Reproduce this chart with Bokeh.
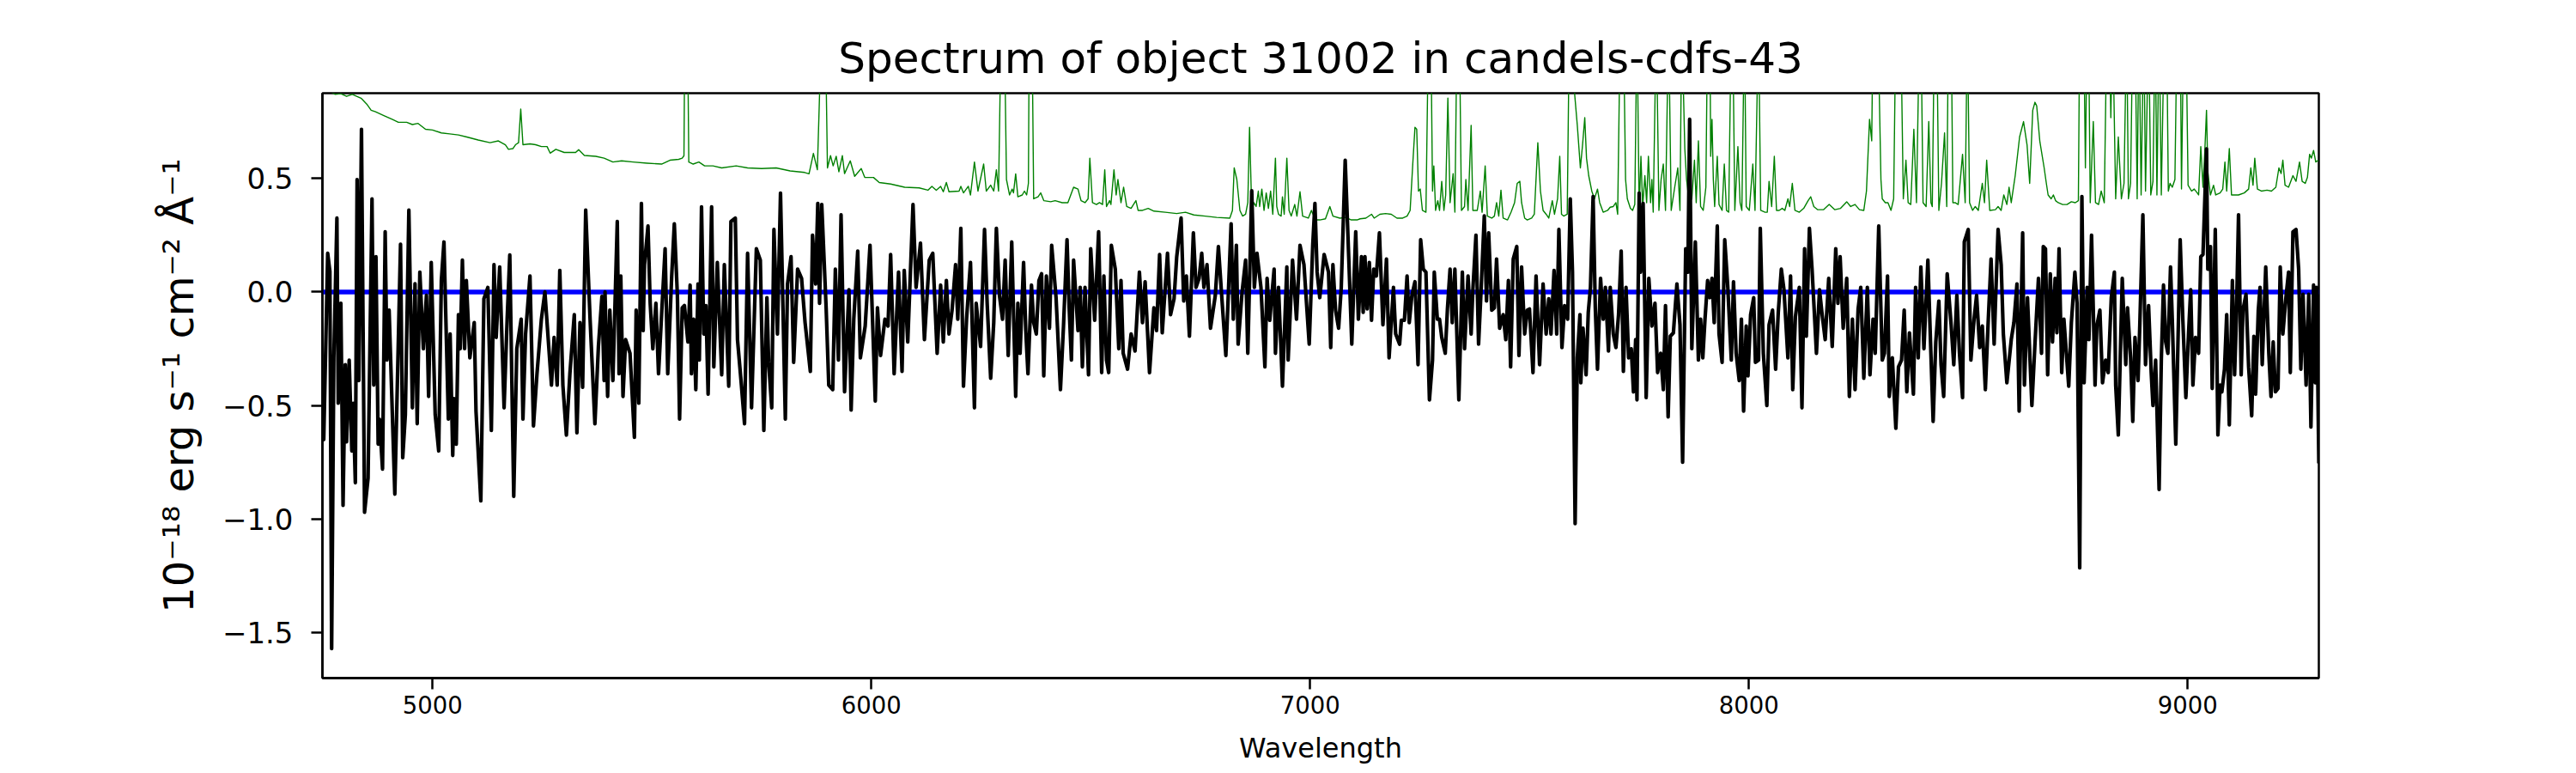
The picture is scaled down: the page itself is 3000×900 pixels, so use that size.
from bokeh.plotting import figure
from bokeh.models import Range1d, FixedTicker, CustomJSTickFormatter
from bokeh.embed import file_html
from bokeh.resources import INLINE

title_text = "Spectrum of object 31002 in candels-cdfs-43"
x_label = "Wavelength"
y_label = "10\u207b\u00b9\u2078 erg s\u207b\u00b9 cm\u207b\u00b2 \u00c5\u207b\u00b9"
x_ticks = [5000, 6000, 7000, 8000, 9000]
y_ticks = [-1.5, -1.0, -0.5, 0.0, 0.5]
x_limits = [4749, 9299]
y_limits = [-1.70, 0.875]

# observed flux (black), (wavelength, flux)
flux_points = [
(4750,-0.60),(4752,-0.65),(4761,0.17),(4766,0.09),(4770,-1.57),(4775,-0.29),(4782,0.325),(4785,-0.49),
(4791,-0.05),(4796,-0.94),(4801,-0.32),(4804,-0.66),(4810,-0.30),(4816,-0.70),(4819,-0.49),(4824,-0.84),
(4828,0.495),(4832,-0.39),(4838,0.716),(4845,-0.97),(4853,-0.82),(4862,0.41),(4866,-0.41),(4871,0.155),
(4876,-0.67),(4879,-0.56),(4886,-0.78),(4892,0.265),(4896,-0.30),(4901,-0.08),(4914,-0.89),(4927,0.21),
(4932,-0.73),(4938,-0.54),(4946,0.36),(4954,-0.51),(4960,0.036),(4965,-0.58),(4971,0.087),(4979,-0.25),
(4986,-0.015),(4991,-0.46),(4997,0.13),(5006,-0.54),(5014,-0.70),(5020,0.05),(5026,0.22),(5036,-0.56),
(5040,-0.185),(5046,-0.72),(5049,-0.47),(5054,-0.67),(5059,-0.10),(5063,-0.25),(5068,0.14),(5073,-0.25),
(5077,0.05),(5085,-0.29),(5095,-0.135),(5099,-0.525),(5110,-0.92),(5117,-0.03),(5126,0.02),(5134,-0.61),
(5140,0.12),(5145,-0.20),(5153,0.11),(5163,-0.51),(5170,-0.12),(5176,0.163),(5185,-0.90),(5192,-0.25),
(5202,-0.12),(5206,-0.56),(5212,-0.185),(5222,0.07),(5230,-0.59),(5238,-0.36),(5248,-0.12),(5256,0.0),
(5271,-0.41),(5277,-0.20),(5284,-0.41),(5290,0.095),(5297,-0.41),(5305,-0.63),(5313,-0.36),(5323,-0.10),
(5329,-0.62),(5336,-0.135),(5342,-0.42),(5349,0.36),(5359,-0.12),(5370,-0.58),(5378,-0.24),(5386,-0.02),
(5391,-0.39),(5393,0.0),(5399,-0.46),(5404,-0.08),(5411,-0.39),(5421,0.31),(5425,-0.36),(5429,0.07),
(5434,-0.46),(5440,-0.21),(5450,-0.27),(5460,-0.64),(5464,-0.08),(5470,-0.49),(5476,0.39),(5480,-0.17),
(5483,0.12),(5491,0.29),(5496,-0.05),(5502,-0.25),(5509,-0.05),(5515,-0.36),(5522,-0.10),(5530,0.19),
(5536,-0.36),(5545,0.07),(5551,0.30),(5558,-0.015),(5563,-0.56),(5569,-0.07),(5574,-0.06),(5582,-0.22),
(5587,0.03),(5590,-0.36),(5595,-0.12),(5600,-0.43),(5605,0.035),(5608,-0.30),(5613,0.375),(5618,-0.185),
(5623,-0.06),(5628,-0.45),(5636,0.375),(5641,-0.33),(5649,0.13),(5659,-0.365),(5665,0.12),(5675,-0.415),
(5680,0.31),(5690,0.325),(5695,-0.21),(5703,-0.39),(5711,-0.58),(5718,0.17),(5727,-0.51),(5738,0.19),
(5747,0.14),(5755,-0.61),(5762,-0.025),(5766,-0.31),(5773,-0.51),(5778,0.275),(5786,-0.185),(5793,0.435),
(5804,-0.56),(5809,0.035),(5817,0.155),(5823,-0.31),(5832,0.10),(5841,0.06),(5849,-0.135),(5861,-0.35),
(5866,0.25),(5873,0.035),(5878,0.39),(5882,-0.05),(5887,0.385),(5897,-0.07),(5903,-0.41),(5912,-0.43),
(5918,0.10),(5925,-0.30),(5931,0.34),(5939,-0.44),(5949,0.01),(5954,-0.52),(5960,-0.12),(5969,0.18),
(5975,-0.29),(5986,-0.15),(5997,0.205),(6009,-0.48),(6014,-0.07),(6021,-0.28),(6031,-0.12),(6038,-0.15),
(6044,0.165),(6052,-0.36),(6062,0.087),(6070,-0.35),(6075,0.095),(6083,-0.22),(6095,0.385),(6102,0.02),
(6112,0.215),(6121,-0.21),(6132,0.14),(6140,0.17),(6150,-0.27),(6158,0.03),(6164,-0.22),(6171,0.05),
(6177,-0.185),(6184,-0.08),(6192,0.12),(6197,-0.12),(6204,0.28),(6210,-0.415),(6217,-0.12),(6226,0.13),
(6235,-0.51),(6239,-0.05),(6249,-0.24),(6258,0.275),(6264,-0.05),(6272,-0.38),(6279,-0.135),(6285,0.28),
(6292,-0.015),(6299,-0.12),(6305,0.14),(6312,-0.28),(6320,0.22),(6329,-0.46),(6334,-0.05),(6339,-0.27),
(6347,0.13),(6352,-0.17),(6357,-0.36),(6365,0.03),(6370,-0.135),(6376,-0.185),(6382,0.05),(6388,0.08),
(6393,-0.37),(6399,0.07),(6406,-0.16),(6411,0.205),(6421,-0.025),(6431,-0.43),(6438,-0.15),(6446,0.23),
(6451,-0.075),(6456,-0.30),(6461,0.14),(6471,-0.17),(6476,0.02),(6481,-0.33),(6487,0.02),(6495,-0.365),
(6500,0.19),(6509,-0.125),(6518,0.265),(6525,-0.355),(6530,0.07),(6536,-0.30),(6541,-0.355),(6547,0.205),
(6556,0.10),(6564,-0.25),(6569,0.05),(6574,-0.27),(6584,-0.34),(6592,-0.185),(6601,-0.26),(6611,0.087),
(6618,-0.135),(6624,0.045),(6634,-0.355),(6644,-0.07),(6650,-0.17),(6657,0.165),(6663,-0.18),(6675,0.17),
(6682,-0.10),(6690,-0.03),(6696,0.155),(6706,0.325),(6712,-0.04),(6718,0.07),(6725,-0.195),(6734,0.26),
(6740,0.02),(6747,0.06),(6753,0.17),(6758,0.02),(6765,0.12),(6773,-0.16),(6784,-0.015),(6791,0.20),
(6799,-0.03),(6808,-0.28),(6820,0.30),(6825,-0.12),(6832,0.205),(6836,-0.23),(6845,0.0),(6853,0.14),
(6858,-0.27),(6867,0.445),(6873,0.02),(6879,0.17),(6888,0.02),(6897,-0.33),(6902,0.06),(6908,-0.125),
(6918,0.10),(6921,-0.27),(6928,0.02),(6937,-0.415),(6947,0.11),(6950,-0.30),(6960,0.14),(6969,-0.12),
(6977,0.205),(6986,0.12),(6998,-0.23),(7006,0.205),(7011,0.39),(7016,0.087),(7022,-0.025),(7032,0.165),
(7042,0.087),(7047,-0.245),(7052,0.12),(7058,-0.08),(7065,-0.16),(7071,0.02),(7080,0.58),(7088,0.155),
(7095,-0.23),(7104,0.265),(7110,-0.12),(7117,0.155),(7121,-0.09),(7125,0.155),(7130,-0.075),(7135,0.13),
(7140,-0.125),(7145,0.10),(7151,0.07),(7158,0.26),(7166,-0.145),(7174,0.145),(7180,-0.29),(7190,0.02),
(7195,-0.185),(7204,-0.23),(7208,-0.125),(7215,-0.125),(7221,0.07),(7226,-0.135),(7232,-0.015),(7239,0.045),
(7246,-0.32),(7252,0.23),(7258,0.10),(7264,0.087),(7272,-0.475),(7279,-0.30),(7283,0.087),(7290,-0.12),
(7295,-0.12),(7300,-0.20),(7308,-0.27),(7313,-0.075),(7319,0.10),(7324,-0.135),(7330,0.10),(7339,-0.475),
(7347,0.087),(7352,-0.25),(7360,0.07),(7367,-0.185),(7371,0.01),(7378,0.25),(7384,-0.23),(7390,0.02),
(7397,0.335),(7402,-0.04),(7407,0.26),(7414,-0.08),(7420,-0.07),(7425,0.145),(7432,-0.16),(7440,-0.10),
(7446,-0.21),(7452,0.05),(7457,-0.33),(7463,0.145),(7471,0.20),(7476,-0.28),(7482,0.11),(7489,-0.185),
(7495,-0.08),(7500,-0.075),(7508,-0.355),(7515,0.07),(7523,-0.32),(7531,0.035),(7538,-0.185),(7544,-0.03),
(7549,-0.185),(7556,0.095),(7562,-0.185),(7567,0.275),(7574,-0.245),(7580,-0.06),(7587,-0.12),(7593,0.41),
(7598,0.087),(7604,-1.02),(7609,-0.29),(7615,-0.10),(7617,-0.40),(7622,-0.16),(7629,-0.365),(7634,-0.09),
(7639,0.02),(7645,0.42),(7650,-0.07),(7655,-0.34),(7662,0.06),(7668,-0.12),(7673,0.02),(7680,-0.26),
(7684,0.02),(7691,-0.185),(7697,-0.245),(7703,-0.10),(7709,0.18),(7714,-0.35),(7720,0.02),(7726,-0.29),
(7732,-0.25),(7737,-0.44),(7742,-0.21),(7745,-0.475),(7750,0.435),(7753,0.087),(7759,0.39),(7766,-0.465),
(7772,0.06),(7779,-0.15),(7786,-0.05),(7792,-0.355),(7799,-0.27),(7805,-0.43),(7810,-0.06),(7816,-0.55),
(7821,-0.195),(7828,-0.18),(7836,0.035),(7843,-0.145),(7849,-0.75),(7856,0.19),(7861,0.087),(7865,0.76),
(7870,-0.25),(7878,0.22),(7885,-0.30),(7890,-0.12),(7895,-0.29),(7900,-0.12),(7906,0.05),(7911,-0.025),
(7916,0.06),(7921,-0.135),(7928,0.29),(7932,-0.185),(7939,-0.31),(7945,0.23),(7952,0.02),(7960,-0.30),
(7965,0.045),(7971,-0.27),(7978,-0.39),(7983,-0.12),(7988,-0.525),(7994,-0.15),(7998,-0.37),(8004,-0.10),
(8011,-0.025),(8015,-0.31),(8022,-0.30),(8026,0.28),(8033,-0.27),(8041,-0.50),(8046,-0.145),(8054,-0.08),
(8061,-0.34),(8067,-0.09),(8074,0.10),(8080,0.01),(8089,-0.29),(8095,0.07),(8100,-0.43),(8106,-0.11),
(8115,0.02),(8121,-0.51),(8127,0.19),(8131,-0.195),(8138,0.28),(8144,0.10),(8150,-0.12),(8154,-0.27),
(8161,0.01),(8167,-0.10),(8174,-0.21),(8182,0.06),(8190,-0.24),(8198,0.19),(8203,-0.05),(8208,0.155),
(8215,-0.16),(8223,0.06),(8229,-0.46),(8236,-0.12),(8242,-0.43),(8249,-0.075),(8255,0.02),(8262,-0.38),
(8270,0.02),(8276,-0.365),(8283,-0.12),(8288,-0.27),(8296,0.29),(8304,-0.30),(8309,-0.27),(8316,0.07),
(8320,-0.46),(8327,-0.29),(8335,-0.60),(8341,-0.33),(8348,-0.30),(8354,-0.08),(8360,-0.44),(8366,-0.18),
(8375,-0.45),(8380,0.02),(8386,-0.29),(8392,0.11),(8399,-0.25),(8408,0.14),(8414,-0.22),(8420,-0.57),
(8426,-0.22),(8433,-0.04),(8438,-0.32),(8444,-0.46),(8452,0.08),(8461,-0.145),(8467,-0.32),(8474,-0.015),
(8480,-0.27),(8487,-0.465),(8491,0.22),(8500,0.275),(8506,-0.30),(8513,-0.125),(8519,-0.015),(8526,-0.245),
(8532,-0.15),(8539,-0.43),(8545,-0.15),(8552,0.145),(8559,-0.23),(8562,-0.05),(8568,0.275),(8575,0.12),
(8580,-0.185),(8588,-0.40),(8598,-0.21),(8604,-0.135),(8611,0.035),(8616,-0.525),(8624,0.26),(8628,-0.41),
(8635,-0.025),(8645,-0.50),(8652,-0.23),(8660,0.06),(8667,-0.27),(8671,0.20),(8676,0.19),(8681,-0.365),
(8687,0.08),(8692,-0.22),(8698,0.06),(8702,-0.18),(8707,0.19),(8713,-0.355),(8718,-0.12),(8729,-0.415),
(8735,-0.135),(8743,0.087),(8748,-0.05),(8754,-1.215),(8759,0.42),(8764,-0.40),(8771,0.02),(8775,-0.21),
(8781,0.25),(8789,-0.41),(8793,-0.15),(8800,-0.08),(8806,-0.40),(8813,-0.30),(8819,-0.355),(8826,-0.025),
(8833,0.087),(8836,-0.41),(8842,-0.63),(8851,0.06),(8859,-0.32),(8863,-0.07),(8870,-0.29),(8875,-0.57),
(8880,-0.20),(8887,-0.39),(8891,-0.145),(8898,0.34),(8904,-0.32),(8911,-0.06),(8917,-0.355),(8921,-0.50),
(8927,-0.30),(8935,-0.87),(8940,-0.30),(8945,0.03),(8950,-0.22),(8955,-0.27),(8961,0.11),(8965,-0.12),
(8973,-0.67),(8983,0.23),(8989,-0.12),(8996,-0.465),(9002,-0.185),(9007,0.01),(9012,-0.41),(9018,-0.20),
(9025,-0.27),(9030,0.155),(9035,0.165),(9043,0.63),(9046,0.10),(9052,0.20),(9056,-0.425),(9063,0.275),
(9069,-0.63),(9074,-0.41),(9078,-0.44),(9084,-0.34),(9089,-0.10),(9095,-0.585),(9102,0.05),(9107,-0.365),
(9111,-0.12),(9116,0.34),(9122,-0.365),(9126,-0.08),(9133,-0.01),(9139,-0.33),(9146,-0.545),(9151,-0.195),
(9155,-0.45),(9161,-0.08),(9165,0.02),(9170,-0.32),(9178,0.11),(9185,-0.27),(9190,-0.46),(9195,-0.22),
(9200,-0.44),(9206,-0.425),(9211,0.11),(9217,-0.185),(9224,-0.025),(9230,0.087),(9234,-0.355),(9240,0.265),
(9247,0.275),(9253,0.10),(9258,-0.34),(9263,-0.01),(9270,-0.41),(9276,-0.01),(9281,-0.595),(9287,0.03),
(9291,-0.40),(9294,0.02),(9299,-0.755),
]

# noise / sky spectrum (green); 1.2 marks lines running off the top of the frame
noise_points = [
(4750,0.90),(4765,0.885),(4778,0.87),(4791,0.873),(4804,0.861),(4817,0.870),(4837,0.853),(4850,0.827),
(4860,0.80),(4870,0.793),(4889,0.776),(4909,0.759),(4922,0.747),(4941,0.747),(4954,0.737),(4967,0.742),
(4984,0.716),(5000,0.713),(5020,0.70),(5039,0.696),(5059,0.691),(5078,0.682),(5104,0.669),(5131,0.657),
(5150,0.665),(5166,0.648),(5173,0.628),(5183,0.631),(5189,0.648),(5196,0.657),(5201,0.805),(5206,0.648),
(5222,0.652),(5235,0.648),(5248,0.64),(5261,0.64),(5268,0.611),(5281,0.628),(5300,0.614),(5326,0.614),
(5333,0.626),(5346,0.601),(5372,0.597),(5391,0.589),(5411,0.572),(5431,0.577),(5457,0.572),(5489,0.567),
(5522,0.563),(5541,0.58),(5561,0.584),(5569,0.589),(5573,0.60),(5575,1.2),(5581,1.2),(5584,0.572),
(5594,0.563),(5607,0.572),(5620,0.555),(5639,0.555),(5659,0.546),(5692,0.555),(5718,0.546),(5750,0.543),
(5783,0.546),(5815,0.533),(5848,0.526),(5858,0.52),(5868,0.61),(5877,0.538),(5887,1.2),(5895,1.2),
(5900,0.546),(5907,0.60),(5913,0.555),(5920,0.597),(5926,0.529),(5934,0.60),(5939,0.521),(5952,0.577),
(5962,0.509),(5977,0.543),(5985,0.504),(6005,0.504),(6018,0.482),(6044,0.475),(6076,0.461),(6109,0.458),
(6129,0.448),(6138,0.465),(6148,0.448),(6158,0.465),(6164,0.441),(6171,0.482),(6177,0.441),(6200,0.444),
(6204,0.465),(6210,0.436),(6221,0.465),(6226,0.427),(6235,0.572),(6243,0.444),(6256,0.563),(6262,0.444),
(6272,0.470),(6279,0.444),(6285,0.538),(6290,0.444),(6296,1.2),(6303,1.2),(6308,0.495),(6315,0.427),
(6321,0.453),(6324,0.436),(6329,0.52),(6334,0.419),(6344,0.427),(6349,0.444),(6354,0.427),(6358,0.478),
(6360,1.2),(6366,1.2),(6370,0.41),(6380,0.419),(6386,0.436),(6393,0.402),(6409,0.397),(6419,0.402),
(6435,0.393),(6448,0.393),(6461,0.461),(6471,0.453),(6478,0.402),(6487,0.393),(6494,0.410),(6498,0.589),
(6504,0.393),(6513,0.385),(6520,0.393),(6527,0.385),(6532,0.538),(6536,0.376),(6543,0.402),(6546,0.385),
(6553,0.538),(6558,0.427),(6562,0.495),(6569,0.393),(6575,0.461),(6582,0.376),(6592,0.368),(6603,0.402),
(6608,0.359),(6618,0.359),(6631,0.368),(6644,0.356),(6670,0.351),(6696,0.345),(6716,0.351),(6735,0.339),
(6761,0.334),(6787,0.328),(6817,0.325),(6823,0.359),(6827,0.546),(6833,0.495),(6840,0.359),(6846,0.334),
(6853,0.342),(6858,0.393),(6862,0.725),(6867,0.359),(6872,0.393),(6877,0.376),(6882,0.444),(6885,0.376),
(6890,0.453),(6895,0.359),(6900,0.436),(6905,0.368),(6910,0.444),(6915,0.342),(6921,0.589),(6924,0.376),
(6928,0.342),(6934,0.334),(6937,0.419),(6941,0.342),(6947,0.589),(6952,0.359),(6957,0.334),(6965,0.385),
(6970,0.334),(6977,0.441),(6983,0.334),(6996,0.325),(7003,0.359),(7012,0.317),(7022,0.317),(7035,0.322),
(7045,0.376),(7052,0.334),(7068,0.325),(7081,0.328),(7094,0.317),(7107,0.317),(7114,0.322),(7127,0.325),
(7140,0.342),(7146,0.325),(7159,0.342),(7172,0.345),(7185,0.342),(7198,0.325),(7211,0.325),(7221,0.334),
(7228,0.359),(7234,0.563),(7239,0.725),(7243,0.716),(7247,0.444),(7251,0.453),(7256,0.359),(7264,0.351),
(7270,1.2),(7275,1.2),(7279,0.444),(7282,0.555),(7286,0.359),(7291,0.402),(7295,0.359),(7300,0.487),
(7305,0.359),(7309,0.427),(7314,0.853),(7319,0.393),(7326,0.521),(7330,0.351),(7335,1.2),(7340,1.2),
(7345,0.359),(7352,0.376),(7355,0.495),(7360,0.359),(7367,0.733),(7371,0.359),(7381,0.359),(7388,0.444),
(7392,0.351),(7399,0.555),(7404,0.334),(7414,0.325),(7420,0.334),(7425,0.393),(7430,0.334),(7435,0.448),
(7440,0.325),(7450,0.317),(7458,0.351),(7466,0.393),(7472,0.478),(7478,0.487),(7482,0.393),(7489,0.325),
(7495,0.317),(7505,0.325),(7511,0.342),(7519,0.657),(7525,0.444),(7531,0.359),(7538,0.342),(7544,0.325),
(7552,0.402),(7557,0.342),(7564,0.410),(7569,0.597),(7573,0.342),(7578,0.334),(7586,0.342),(7591,1.2),
(7595,1.2),(7600,1.2),(7603,0.87),(7609,0.733),(7616,0.546),(7621,0.648),(7626,0.767),(7630,0.589),
(7635,0.512),(7642,0.444),(7648,0.410),(7655,0.453),(7660,0.393),(7668,0.351),(7678,0.359),(7684,0.373),
(7691,0.376),(7697,0.393),(7701,0.342),(7707,1.2),(7714,1.2),(7719,0.495),(7723,0.410),(7730,0.368),
(7735,0.359),(7740,0.385),(7745,1.2),(7750,0.359),(7754,0.597),(7758,0.376),(7763,0.512),(7767,0.393),
(7771,0.597),(7776,0.393),(7779,0.495),(7782,0.351),(7789,1.2),(7795,0.359),(7800,0.495),(7805,0.563),
(7810,0.359),(7817,1.2),(7823,0.359),(7831,0.461),(7838,0.546),(7843,0.359),(7847,1.2),(7854,0.631),
(7858,0.495),(7864,0.393),(7870,0.41),(7876,0.58),(7880,0.393),(7885,0.665),(7890,0.376),(7896,0.359),
(7902,0.461),(7906,1.2),(7911,1.2),(7913,0.597),(7916,0.76),(7919,0.495),(7922,0.376),(7928,0.597),
(7932,0.385),(7939,0.359),(7944,0.563),(7949,0.359),(7954,0.351),(7960,1.2),(7963,1.2),(7968,0.359),
(7975,0.64),(7980,0.393),(7984,0.359),(7990,1.2),(7994,0.376),(8001,0.359),(8009,0.563),(8014,0.359),
(8022,1.2),(8027,0.359),(8037,0.351),(8042,0.351),(8046,0.487),(8052,0.376),(8058,0.597),(8063,0.359),
(8069,0.359),(8076,0.368),(8082,0.359),(8089,0.410),(8093,0.376),(8099,0.478),(8105,0.359),(8115,0.351),
(8125,0.368),(8135,0.402),(8141,0.419),(8148,0.376),(8157,0.362),(8170,0.362),(8183,0.385),(8196,0.362),
(8209,0.368),(8223,0.397),(8232,0.376),(8242,0.385),(8252,0.362),(8262,0.359),(8268,0.444),(8275,0.76),
(8280,0.665),(8283,1.2),(8288,1.2),(8294,1.2),(8301,0.495),(8304,0.410),(8311,0.393),(8317,0.393),
(8324,0.359),(8330,0.410),(8335,1.2),(8340,1.2),(8346,1.2),(8352,0.410),(8358,0.58),(8363,0.393),
(8369,0.385),(8376,0.716),(8382,0.393),(8389,1.2),(8392,1.2),(8397,0.393),(8404,0.376),(8410,0.75),
(8415,0.393),(8418,0.376),(8423,1.2),(8428,1.2),(8433,0.359),(8439,0.478),(8446,0.70),(8451,0.376),
(8455,1.2),(8461,1.2),(8465,0.393),(8470,0.393),(8477,0.385),(8487,0.606),(8493,0.393),(8498,1.2),
(8503,0.393),(8510,0.359),(8516,0.376),(8523,0.359),(8532,0.478),(8537,0.393),(8542,0.58),(8549,0.359),
(8562,0.362),(8568,0.376),(8575,0.359),(8581,0.427),(8588,0.385),(8593,0.461),(8598,0.393),(8607,0.512),
(8617,0.682),(8626,0.75),(8634,0.648),(8640,0.478),(8647,0.80),(8652,0.835),(8656,0.819),(8663,0.665),
(8673,0.546),(8678,0.478),(8682,0.427),(8689,0.410),(8694,0.427),(8699,0.402),(8705,0.393),(8715,0.385),
(8725,0.385),(8735,0.397),(8744,0.393),(8751,0.402),(8754,1.2),(8757,1.2),(8763,1.2),(8767,0.546),
(8771,1.2),(8774,1.2),(8778,0.393),(8785,0.75),(8790,0.393),(8797,0.385),(8803,0.444),(8810,0.393),
(8816,1.2),(8821,1.2),(8825,0.767),(8829,1.2),(8836,0.410),(8842,0.682),(8849,0.410),(8855,0.478),
(8861,1.2),(8865,0.410),(8870,0.478),(8875,1.2),(8880,1.2),(8885,0.410),(8889,1.2),(8894,0.427),
(8900,1.2),(8904,0.444),(8911,1.2),(8916,0.427),(8921,0.487),(8926,1.2),(8930,0.427),(8935,1.2),
(8940,0.427),(8947,1.2),(8952,1.2),(8956,0.444),(8960,0.478),(8965,0.461),(8971,0.495),(8976,1.2),
(8983,1.2),(8986,0.453),(8991,1.2),(8996,1.2),(9001,0.470),(9009,0.444),(9015,0.453),(9022,0.436),
(9025,0.427),(9030,0.64),(9035,0.461),(9039,0.614),(9043,0.80),(9046,0.529),(9052,0.427),(9059,0.470),
(9064,0.427),(9074,0.436),(9080,0.453),(9085,0.572),(9089,0.444),(9095,0.631),(9100,0.427),(9106,0.427),
(9116,0.427),(9129,0.436),(9139,0.453),(9144,0.546),(9149,0.470),(9153,0.589),(9159,0.453),(9168,0.444),
(9181,0.448),(9191,0.444),(9201,0.461),(9208,0.546),(9213,0.521),(9217,0.58),(9222,0.470),(9230,0.461),
(9240,0.512),(9247,0.487),(9255,0.572),(9261,0.487),(9268,0.478),(9273,0.504),(9278,0.606),(9282,0.589),
(9287,0.623),(9292,0.572),(9298,0.58),
]

# model (blue)
model_wave = [4749, 9299]
model_flux = [0.0, 0.0]

flux_wave = [w for w, _ in flux_points]
flux_vals = [f for _, f in flux_points]
noise_wave = [w for w, _ in noise_points]
noise_vals = [f for _, f in noise_points]

FONT = "DejaVu Sans"

p = figure(width=2992, height=892,
           x_range=Range1d(*x_limits), y_range=Range1d(*y_limits),
           output_backend="svg", toolbar_location=None,
           min_border_left=375, min_border_right=292,
           min_border_top=108, min_border_bottom=91,
           title=title_text)

p.background_fill_color = "white"
p.border_fill_color = "white"
p.xgrid.visible = False
p.ygrid.visible = False
p.outline_line_color = "black"
p.outline_line_width = 2.5
p.outline_line_alpha = 1.0

p.title.text_font = FONT
p.title.text_font_size = "50px"
p.title.text_font_style = "normal"
p.title.text_color = "black"
p.title.align = "center"
p.title.standoff = 24

p.xaxis.ticker = FixedTicker(ticks=x_ticks)
p.yaxis.ticker = FixedTicker(ticks=y_ticks)
p.xaxis.formatter = CustomJSTickFormatter(code="return tick.toFixed(0);")
p.yaxis.formatter = CustomJSTickFormatter(
    code="return (tick < 0 ? '\\u2212' : '') + Math.abs(tick).toFixed(1);")

for ax in (p.xaxis[0], p.yaxis[0]):
    ax.axis_line_color = "black"
    ax.axis_line_width = 2.5
    ax.major_tick_line_color = "black"
    ax.major_tick_line_width = 2.5
    ax.major_tick_out = 13
    ax.major_tick_in = 0
    ax.minor_tick_out = 0
    ax.minor_tick_in = 0
    ax.major_label_text_font = FONT
    ax.major_label_text_color = "black"
    ax.axis_label_text_font = FONT
    ax.axis_label_text_font_style = "normal"
    ax.axis_label_text_color = "black"

p.xaxis.major_label_text_font_size = "27.5px"
p.yaxis.major_label_text_font_size = "34px"
p.xaxis.major_label_standoff = 7
p.yaxis.major_label_standoff = 21
p.xaxis.axis_label = x_label
p.yaxis.axis_label = y_label
p.xaxis.axis_label_text_font_size = "32px"
p.yaxis.axis_label_text_font_size = "48px"
p.xaxis.axis_label_standoff = 18
p.yaxis.axis_label_standoff = 20

p.line(model_wave, model_flux, line_color="#0000ff", line_width=5.5)
p.line(noise_wave, noise_vals, line_color="#008000", line_width=1.4, line_join="round")
p.line(flux_wave, flux_vals, line_color="black", line_width=4.2, line_join="round")

open("out.html", "w").write(file_html(p, INLINE))
